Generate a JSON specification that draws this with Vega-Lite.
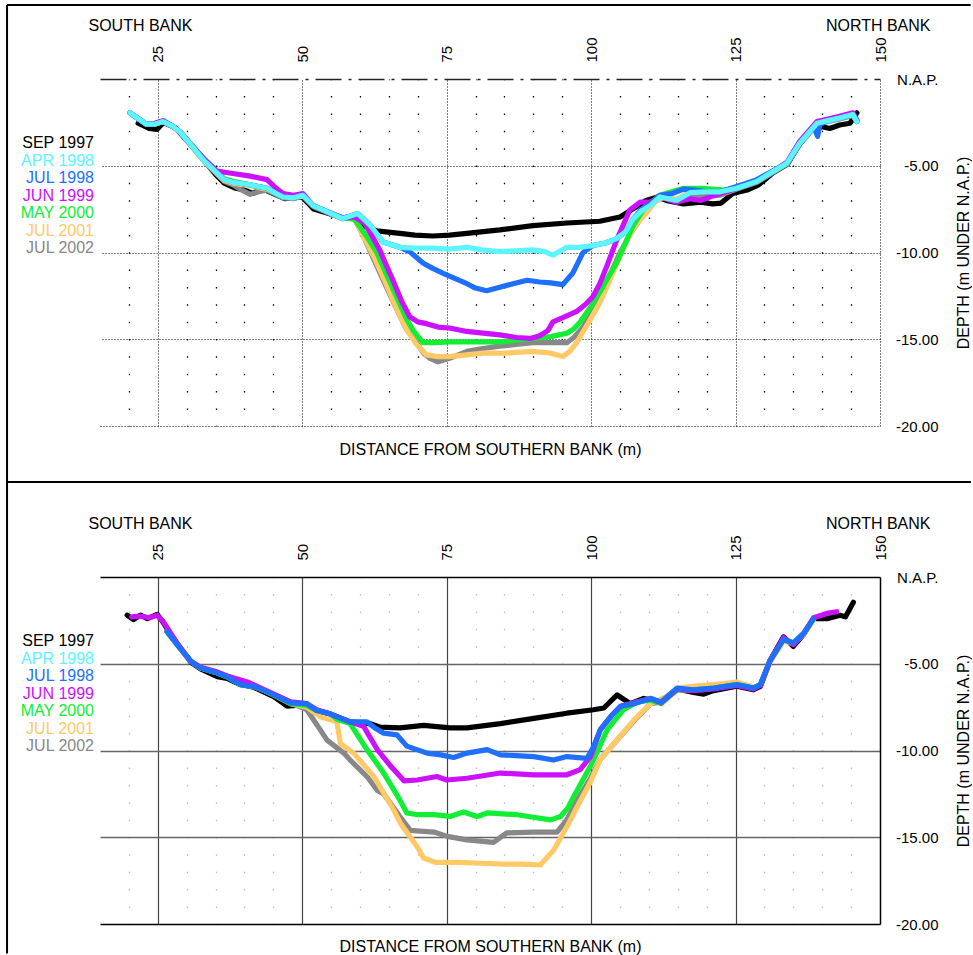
{
"$schema": "https://vega.github.io/schema/vega-lite/v6.json",
"autosize": {"type": "pad"},
"padding": {"left": 6, "top": 4, "right": 0, "bottom": 0},
"config": {"font": "Liberation Sans", "view": {"stroke": null},
  "axis": {"labelFont": "Liberation Sans", "titleFont": "Liberation Sans", "labelColor": "#000", "titleColor": "#000", "titleFontWeight": "normal", "titleFontSize": 16, "labelFontSize": 15},
  "legend": {"labelFont": "Liberation Sans"}},
"datasets": {
"top": [
{"s":"SEP 1997","x":21.6,"y":-2.55},{"s":"SEP 1997","x":23.5,"y":-2.85},{"s":"SEP 1997","x":24.9,"y":-2.9},{"s":"SEP 1997","x":26,"y":-2.5},{"s":"SEP 1997","x":28,"y":-2.8},{"s":"SEP 1997","x":31,"y":-3.9},{"s":"SEP 1997","x":35,"y":-5.5},{"s":"SEP 1997","x":36.5,"y":-6.0},{"s":"SEP 1997","x":38.5,"y":-6.3},{"s":"SEP 1997","x":40,"y":-6.4},{"s":"SEP 1997","x":41.5,"y":-6.6},{"s":"SEP 1997","x":43,"y":-6.3},{"s":"SEP 1997","x":45,"y":-6.6},{"s":"SEP 1997","x":47,"y":-6.9},{"s":"SEP 1997","x":50,"y":-6.8},{"s":"SEP 1997","x":52,"y":-7.5},{"s":"SEP 1997","x":55,"y":-7.8},{"s":"SEP 1997","x":57,"y":-8.0},{"s":"SEP 1997","x":59,"y":-7.9},{"s":"SEP 1997","x":61,"y":-8.5},{"s":"SEP 1997","x":62.9,"y":-8.75},{"s":"SEP 1997","x":66.9,"y":-8.9},{"s":"SEP 1997","x":69.5,"y":-9.0},{"s":"SEP 1997","x":72.6,"y":-9.05},{"s":"SEP 1997","x":75.5,"y":-9.0},{"s":"SEP 1997","x":78.5,"y":-8.9},{"s":"SEP 1997","x":84.2,"y":-8.7},{"s":"SEP 1997","x":89.9,"y":-8.45},{"s":"SEP 1997","x":95.8,"y":-8.3},{"s":"SEP 1997","x":101.5,"y":-8.2},{"s":"SEP 1997","x":105,"y":-7.95},{"s":"SEP 1997","x":107.2,"y":-7.5},{"s":"SEP 1997","x":109.5,"y":-7.0},{"s":"SEP 1997","x":111.5,"y":-6.8},{"s":"SEP 1997","x":113,"y":-7.0},{"s":"SEP 1997","x":116,"y":-7.2},{"s":"SEP 1997","x":119,"y":-7.1},{"s":"SEP 1997","x":121,"y":-7.2},{"s":"SEP 1997","x":122.5,"y":-7.15},{"s":"SEP 1997","x":124.5,"y":-6.6},{"s":"SEP 1997","x":127,"y":-6.4},{"s":"SEP 1997","x":129,"y":-6.1},{"s":"SEP 1997","x":131.5,"y":-5.4},{"s":"SEP 1997","x":134,"y":-4.9},{"s":"SEP 1997","x":136,"y":-3.8},{"s":"SEP 1997","x":138.5,"y":-2.8},{"s":"SEP 1997","x":140,"y":-2.75},{"s":"SEP 1997","x":141.3,"y":-2.85},{"s":"SEP 1997","x":143,"y":-2.65},{"s":"SEP 1997","x":144.8,"y":-2.55},{"s":"SEP 1997","x":146,"y":-1.95},
{"s":"JUL 2002","x":20.2,"y":-1.95},{"s":"JUL 2002","x":21.5,"y":-2.25},{"s":"JUL 2002","x":23,"y":-2.6},{"s":"JUL 2002","x":24.5,"y":-2.6},{"s":"JUL 2002","x":25.9,"y":-2.45},{"s":"JUL 2002","x":27.5,"y":-2.7},{"s":"JUL 2002","x":29,"y":-3.1},{"s":"JUL 2002","x":31,"y":-3.9},{"s":"JUL 2002","x":33,"y":-4.7},{"s":"JUL 2002","x":35.2,"y":-5.45},{"s":"JUL 2002","x":36.5,"y":-5.9},{"s":"JUL 2002","x":38,"y":-6.1},{"s":"JUL 2002","x":39.5,"y":-6.4},{"s":"JUL 2002","x":41,"y":-6.65},{"s":"JUL 2002","x":42.5,"y":-6.5},{"s":"JUL 2002","x":43.9,"y":-6.4},{"s":"JUL 2002","x":45.5,"y":-6.65},{"s":"JUL 2002","x":46.7,"y":-6.85},{"s":"JUL 2002","x":48.5,"y":-6.9},{"s":"JUL 2002","x":50.1,"y":-6.75},{"s":"JUL 2002","x":51.9,"y":-7.35},{"s":"JUL 2002","x":54,"y":-7.65},{"s":"JUL 2002","x":57,"y":-8.05},{"s":"JUL 2002","x":58.8,"y":-7.9},{"s":"JUL 2002","x":60.5,"y":-9.0},{"s":"JUL 2002","x":62.2,"y":-10.25},{"s":"JUL 2002","x":64.3,"y":-11.8},{"s":"JUL 2002","x":66.4,"y":-13.3},{"s":"JUL 2002","x":68,"y":-14.4},{"s":"JUL 2002","x":69.8,"y":-15.2},{"s":"JUL 2002","x":71,"y":-15.8},{"s":"JUL 2002","x":72.1,"y":-16.1},{"s":"JUL 2002","x":73.5,"y":-16.3},{"s":"JUL 2002","x":75.5,"y":-16.1},{"s":"JUL 2002","x":78.5,"y":-15.7},{"s":"JUL 2002","x":81,"y":-15.55},{"s":"JUL 2002","x":84.2,"y":-15.4},{"s":"JUL 2002","x":87,"y":-15.3},{"s":"JUL 2002","x":89.9,"y":-15.2},{"s":"JUL 2002","x":92,"y":-15.2},{"s":"JUL 2002","x":95.8,"y":-15.2},{"s":"JUL 2002","x":97,"y":-14.9},{"s":"JUL 2002","x":98.6,"y":-14.3},{"s":"JUL 2002","x":100,"y":-13.5},{"s":"JUL 2002","x":101.5,"y":-12.7},{"s":"JUL 2002","x":103,"y":-11.5},{"s":"JUL 2002","x":105,"y":-10.0},{"s":"JUL 2002","x":107.2,"y":-8.7},{"s":"JUL 2002","x":109.6,"y":-7.55},{"s":"JUL 2002","x":111,"y":-7.0},{"s":"JUL 2002","x":112.5,"y":-6.85},{"s":"JUL 2002","x":114.8,"y":-7.05},{"s":"JUL 2002","x":117.1,"y":-6.7},{"s":"JUL 2002","x":120,"y":-6.75},{"s":"JUL 2002","x":122.3,"y":-6.7},{"s":"JUL 2002","x":125.2,"y":-6.35},{"s":"JUL 2002","x":128.7,"y":-5.95},{"s":"JUL 2002","x":131.4,"y":-5.4},{"s":"JUL 2002","x":133.9,"y":-4.9},{"s":"JUL 2002","x":136.1,"y":-3.75},{"s":"JUL 2002","x":139.1,"y":-2.6},{"s":"JUL 2002","x":141,"y":-2.45},{"s":"JUL 2002","x":143,"y":-2.3},{"s":"JUL 2002","x":145.3,"y":-2.1},{"s":"JUL 2002","x":146,"y":-2.45},
{"s":"JUL 2001","x":20.2,"y":-1.95},{"s":"JUL 2001","x":21.5,"y":-2.25},{"s":"JUL 2001","x":23,"y":-2.6},{"s":"JUL 2001","x":24.5,"y":-2.6},{"s":"JUL 2001","x":25.9,"y":-2.45},{"s":"JUL 2001","x":27.5,"y":-2.7},{"s":"JUL 2001","x":29,"y":-3.1},{"s":"JUL 2001","x":31,"y":-3.95},{"s":"JUL 2001","x":33,"y":-4.75},{"s":"JUL 2001","x":35.2,"y":-5.45},{"s":"JUL 2001","x":36.5,"y":-5.85},{"s":"JUL 2001","x":38,"y":-6.0},{"s":"JUL 2001","x":41,"y":-6.15},{"s":"JUL 2001","x":43.9,"y":-6.35},{"s":"JUL 2001","x":45.5,"y":-6.6},{"s":"JUL 2001","x":46.7,"y":-6.8},{"s":"JUL 2001","x":48.5,"y":-6.85},{"s":"JUL 2001","x":50.1,"y":-6.7},{"s":"JUL 2001","x":51.9,"y":-7.3},{"s":"JUL 2001","x":54,"y":-7.6},{"s":"JUL 2001","x":57,"y":-8.0},{"s":"JUL 2001","x":58.8,"y":-7.9},{"s":"JUL 2001","x":60.5,"y":-9.0},{"s":"JUL 2001","x":62.5,"y":-10.3},{"s":"JUL 2001","x":64.5,"y":-11.8},{"s":"JUL 2001","x":66.4,"y":-13.3},{"s":"JUL 2001","x":68,"y":-14.4},{"s":"JUL 2001","x":69.8,"y":-15.3},{"s":"JUL 2001","x":71.5,"y":-15.9},{"s":"JUL 2001","x":73.5,"y":-16.0},{"s":"JUL 2001","x":75.5,"y":-16.0},{"s":"JUL 2001","x":78.5,"y":-15.9},{"s":"JUL 2001","x":81.3,"y":-15.8},{"s":"JUL 2001","x":85,"y":-15.8},{"s":"JUL 2001","x":89.9,"y":-15.7},{"s":"JUL 2001","x":93,"y":-15.8},{"s":"JUL 2001","x":95.1,"y":-16.0},{"s":"JUL 2001","x":96.3,"y":-15.7},{"s":"JUL 2001","x":97.5,"y":-15.2},{"s":"JUL 2001","x":99.8,"y":-13.9},{"s":"JUL 2001","x":101.5,"y":-12.9},{"s":"JUL 2001","x":102.7,"y":-12.0},{"s":"JUL 2001","x":104.5,"y":-10.6},{"s":"JUL 2001","x":106.2,"y":-9.3},{"s":"JUL 2001","x":108,"y":-8.3},{"s":"JUL 2001","x":109.6,"y":-7.7},{"s":"JUL 2001","x":111,"y":-7.1},{"s":"JUL 2001","x":112.5,"y":-6.8},{"s":"JUL 2001","x":114.8,"y":-6.95},{"s":"JUL 2001","x":117.1,"y":-6.5},{"s":"JUL 2001","x":120,"y":-6.45},{"s":"JUL 2001","x":122.3,"y":-6.5},{"s":"JUL 2001","x":125.2,"y":-6.3},{"s":"JUL 2001","x":128.7,"y":-5.9},{"s":"JUL 2001","x":131.4,"y":-5.35},{"s":"JUL 2001","x":133.9,"y":-4.85},{"s":"JUL 2001","x":136.1,"y":-3.7},{"s":"JUL 2001","x":139.1,"y":-2.55},{"s":"JUL 2001","x":141,"y":-2.4},{"s":"JUL 2001","x":143,"y":-2.25},{"s":"JUL 2001","x":145.3,"y":-2.05},{"s":"JUL 2001","x":146,"y":-2.45},
{"s":"MAY 2000","x":20.2,"y":-1.95},{"s":"MAY 2000","x":21.5,"y":-2.25},{"s":"MAY 2000","x":23,"y":-2.6},{"s":"MAY 2000","x":24.5,"y":-2.6},{"s":"MAY 2000","x":25.9,"y":-2.45},{"s":"MAY 2000","x":27.5,"y":-2.7},{"s":"MAY 2000","x":29,"y":-3.1},{"s":"MAY 2000","x":31,"y":-3.85},{"s":"MAY 2000","x":33,"y":-4.6},{"s":"MAY 2000","x":35.2,"y":-5.35},{"s":"MAY 2000","x":36.5,"y":-5.75},{"s":"MAY 2000","x":38,"y":-5.9},{"s":"MAY 2000","x":41,"y":-6.1},{"s":"MAY 2000","x":43.9,"y":-6.3},{"s":"MAY 2000","x":45.5,"y":-6.6},{"s":"MAY 2000","x":46.7,"y":-6.8},{"s":"MAY 2000","x":48.5,"y":-6.85},{"s":"MAY 2000","x":50.1,"y":-6.7},{"s":"MAY 2000","x":51.9,"y":-7.3},{"s":"MAY 2000","x":54,"y":-7.6},{"s":"MAY 2000","x":57,"y":-8.0},{"s":"MAY 2000","x":59.1,"y":-8.1},{"s":"MAY 2000","x":61,"y":-9.0},{"s":"MAY 2000","x":62.9,"y":-10.0},{"s":"MAY 2000","x":64.5,"y":-11.2},{"s":"MAY 2000","x":66.4,"y":-12.6},{"s":"MAY 2000","x":68,"y":-13.8},{"s":"MAY 2000","x":69.2,"y":-14.5},{"s":"MAY 2000","x":70.9,"y":-15.2},{"s":"MAY 2000","x":73,"y":-15.2},{"s":"MAY 2000","x":75.5,"y":-15.15},{"s":"MAY 2000","x":80,"y":-15.15},{"s":"MAY 2000","x":84.2,"y":-15.15},{"s":"MAY 2000","x":87,"y":-15.05},{"s":"MAY 2000","x":89.9,"y":-14.95},{"s":"MAY 2000","x":93,"y":-14.85},{"s":"MAY 2000","x":95.8,"y":-14.65},{"s":"MAY 2000","x":97,"y":-14.4},{"s":"MAY 2000","x":98,"y":-14.05},{"s":"MAY 2000","x":99.8,"y":-13.2},{"s":"MAY 2000","x":101.5,"y":-12.3},{"s":"MAY 2000","x":103,"y":-11.4},{"s":"MAY 2000","x":104.4,"y":-10.6},{"s":"MAY 2000","x":106,"y":-9.4},{"s":"MAY 2000","x":107.2,"y":-8.5},{"s":"MAY 2000","x":109,"y":-7.55},{"s":"MAY 2000","x":110.2,"y":-7.2},{"s":"MAY 2000","x":111.9,"y":-6.7},{"s":"MAY 2000","x":114,"y":-6.5},{"s":"MAY 2000","x":116,"y":-6.3},{"s":"MAY 2000","x":119,"y":-6.3},{"s":"MAY 2000","x":121,"y":-6.35},{"s":"MAY 2000","x":123,"y":-6.4},{"s":"MAY 2000","x":125.2,"y":-6.3},{"s":"MAY 2000","x":128.7,"y":-5.9},{"s":"MAY 2000","x":131.4,"y":-5.35},{"s":"MAY 2000","x":133.9,"y":-4.85},{"s":"MAY 2000","x":136.1,"y":-3.7},{"s":"MAY 2000","x":139.1,"y":-2.55},{"s":"MAY 2000","x":141,"y":-2.4},{"s":"MAY 2000","x":143,"y":-2.25},{"s":"MAY 2000","x":145.3,"y":-2.05},{"s":"MAY 2000","x":146,"y":-2.45},
{"s":"JUN 1999","x":20.2,"y":-1.95},{"s":"JUN 1999","x":21.5,"y":-2.25},{"s":"JUN 1999","x":23,"y":-2.6},{"s":"JUN 1999","x":24.5,"y":-2.55},{"s":"JUN 1999","x":25.9,"y":-2.4},{"s":"JUN 1999","x":27.5,"y":-2.7},{"s":"JUN 1999","x":29,"y":-3.1},{"s":"JUN 1999","x":31,"y":-3.9},{"s":"JUN 1999","x":33,"y":-4.6},{"s":"JUN 1999","x":35.2,"y":-5.3},{"s":"JUN 1999","x":38,"y":-5.45},{"s":"JUN 1999","x":41,"y":-5.6},{"s":"JUN 1999","x":43.9,"y":-5.8},{"s":"JUN 1999","x":45.5,"y":-6.3},{"s":"JUN 1999","x":46.7,"y":-6.6},{"s":"JUN 1999","x":48.5,"y":-6.7},{"s":"JUN 1999","x":50.1,"y":-6.6},{"s":"JUN 1999","x":51.9,"y":-7.3},{"s":"JUN 1999","x":54,"y":-7.6},{"s":"JUN 1999","x":57,"y":-8.0},{"s":"JUN 1999","x":59.1,"y":-7.95},{"s":"JUN 1999","x":60.8,"y":-8.3},{"s":"JUN 1999","x":62,"y":-9.0},{"s":"JUN 1999","x":63.4,"y":-9.85},{"s":"JUN 1999","x":64.5,"y":-10.7},{"s":"JUN 1999","x":65.7,"y":-11.6},{"s":"JUN 1999","x":67.2,"y":-12.8},{"s":"JUN 1999","x":68.6,"y":-13.7},{"s":"JUN 1999","x":70,"y":-14.0},{"s":"JUN 1999","x":71.5,"y":-14.1},{"s":"JUN 1999","x":73.5,"y":-14.3},{"s":"JUN 1999","x":75.5,"y":-14.35},{"s":"JUN 1999","x":78.5,"y":-14.55},{"s":"JUN 1999","x":81.3,"y":-14.65},{"s":"JUN 1999","x":84.2,"y":-14.75},{"s":"JUN 1999","x":87.1,"y":-14.9},{"s":"JUN 1999","x":89.5,"y":-14.95},{"s":"JUN 1999","x":91.1,"y":-14.8},{"s":"JUN 1999","x":92.5,"y":-14.5},{"s":"JUN 1999","x":93.4,"y":-14.0},{"s":"JUN 1999","x":95.5,"y":-13.7},{"s":"JUN 1999","x":97.5,"y":-13.4},{"s":"JUN 1999","x":99,"y":-13.0},{"s":"JUN 1999","x":100.3,"y":-12.55},{"s":"JUN 1999","x":101.5,"y":-11.8},{"s":"JUN 1999","x":102.7,"y":-10.8},{"s":"JUN 1999","x":104.4,"y":-9.3},{"s":"JUN 1999","x":106.7,"y":-7.55},{"s":"JUN 1999","x":108.5,"y":-7.1},{"s":"JUN 1999","x":110.2,"y":-7.1},{"s":"JUN 1999","x":111.9,"y":-6.8},{"s":"JUN 1999","x":114.8,"y":-7.1},{"s":"JUN 1999","x":117.1,"y":-6.9},{"s":"JUN 1999","x":119,"y":-7.0},{"s":"JUN 1999","x":120.5,"y":-6.8},{"s":"JUN 1999","x":122.3,"y":-6.6},{"s":"JUN 1999","x":125.2,"y":-6.3},{"s":"JUN 1999","x":128.7,"y":-5.9},{"s":"JUN 1999","x":131.4,"y":-5.35},{"s":"JUN 1999","x":133.9,"y":-4.8},{"s":"JUN 1999","x":136.1,"y":-3.6},{"s":"JUN 1999","x":139.1,"y":-2.45},{"s":"JUN 1999","x":141,"y":-2.3},{"s":"JUN 1999","x":143,"y":-2.15},{"s":"JUN 1999","x":145.3,"y":-1.95},{"s":"JUN 1999","x":146,"y":-2.35},
{"s":"JUL 1998","x":20.2,"y":-1.95},{"s":"JUL 1998","x":21.5,"y":-2.25},{"s":"JUL 1998","x":23,"y":-2.6},{"s":"JUL 1998","x":24.5,"y":-2.6},{"s":"JUL 1998","x":25.9,"y":-2.45},{"s":"JUL 1998","x":27.5,"y":-2.7},{"s":"JUL 1998","x":29,"y":-3.1},{"s":"JUL 1998","x":31,"y":-3.9},{"s":"JUL 1998","x":33,"y":-4.7},{"s":"JUL 1998","x":35.2,"y":-5.4},{"s":"JUL 1998","x":36.5,"y":-5.8},{"s":"JUL 1998","x":38,"y":-5.95},{"s":"JUL 1998","x":41,"y":-6.1},{"s":"JUL 1998","x":43.9,"y":-6.3},{"s":"JUL 1998","x":45.5,"y":-6.6},{"s":"JUL 1998","x":46.7,"y":-6.8},{"s":"JUL 1998","x":48.5,"y":-6.85},{"s":"JUL 1998","x":50.1,"y":-6.7},{"s":"JUL 1998","x":51.9,"y":-7.3},{"s":"JUL 1998","x":54,"y":-7.6},{"s":"JUL 1998","x":57,"y":-8.05},{"s":"JUL 1998","x":59.6,"y":-7.75},{"s":"JUL 1998","x":61.7,"y":-8.4},{"s":"JUL 1998","x":64,"y":-9.4},{"s":"JUL 1998","x":66.9,"y":-9.7},{"s":"JUL 1998","x":68.6,"y":-9.95},{"s":"JUL 1998","x":70.9,"y":-10.6},{"s":"JUL 1998","x":72.5,"y":-10.9},{"s":"JUL 1998","x":74.4,"y":-11.2},{"s":"JUL 1998","x":76.5,"y":-11.5},{"s":"JUL 1998","x":78.5,"y":-11.8},{"s":"JUL 1998","x":80,"y":-12.05},{"s":"JUL 1998","x":81.9,"y":-12.2},{"s":"JUL 1998","x":84.2,"y":-12.0},{"s":"JUL 1998","x":86.5,"y":-11.8},{"s":"JUL 1998","x":88.9,"y":-11.6},{"s":"JUL 1998","x":91.1,"y":-11.7},{"s":"JUL 1998","x":93,"y":-11.75},{"s":"JUL 1998","x":95.1,"y":-11.85},{"s":"JUL 1998","x":96.8,"y":-11.2},{"s":"JUL 1998","x":98.6,"y":-10.0},{"s":"JUL 1998","x":100.3,"y":-9.6},{"s":"JUL 1998","x":102.5,"y":-9.45},{"s":"JUL 1998","x":104.4,"y":-9.2},{"s":"JUL 1998","x":106,"y":-8.8},{"s":"JUL 1998","x":107.2,"y":-8.1},{"s":"JUL 1998","x":108.7,"y":-7.5},{"s":"JUL 1998","x":110.2,"y":-7.2},{"s":"JUL 1998","x":111.9,"y":-6.7},{"s":"JUL 1998","x":114,"y":-6.6},{"s":"JUL 1998","x":116,"y":-6.35},{"s":"JUL 1998","x":118,"y":-6.4},{"s":"JUL 1998","x":120,"y":-6.5},{"s":"JUL 1998","x":122.3,"y":-6.5},{"s":"JUL 1998","x":125.2,"y":-6.2},{"s":"JUL 1998","x":128.7,"y":-5.8},{"s":"JUL 1998","x":131.4,"y":-5.3},{"s":"JUL 1998","x":133.9,"y":-4.85},{"s":"JUL 1998","x":136.1,"y":-3.7},{"s":"JUL 1998","x":138.5,"y":-2.75},{"s":"JUL 1998","x":139.2,"y":-3.3},{"s":"JUL 1998","x":139.6,"y":-2.6},{"s":"JUL 1998","x":141,"y":-2.4},{"s":"JUL 1998","x":143,"y":-2.25},{"s":"JUL 1998","x":145.3,"y":-2.05},{"s":"JUL 1998","x":146,"y":-2.45},
{"s":"APR 1998","x":20.2,"y":-1.95},{"s":"APR 1998","x":21.5,"y":-2.25},{"s":"APR 1998","x":23,"y":-2.6},{"s":"APR 1998","x":24.5,"y":-2.6},{"s":"APR 1998","x":25.9,"y":-2.45},{"s":"APR 1998","x":27.5,"y":-2.7},{"s":"APR 1998","x":29,"y":-3.1},{"s":"APR 1998","x":31,"y":-3.9},{"s":"APR 1998","x":33,"y":-4.7},{"s":"APR 1998","x":35.2,"y":-5.4},{"s":"APR 1998","x":36.5,"y":-5.8},{"s":"APR 1998","x":38,"y":-5.95},{"s":"APR 1998","x":41,"y":-6.1},{"s":"APR 1998","x":43.9,"y":-6.3},{"s":"APR 1998","x":45.5,"y":-6.6},{"s":"APR 1998","x":46.7,"y":-6.8},{"s":"APR 1998","x":48.5,"y":-6.85},{"s":"APR 1998","x":50.1,"y":-6.7},{"s":"APR 1998","x":51.9,"y":-7.3},{"s":"APR 1998","x":54,"y":-7.6},{"s":"APR 1998","x":57,"y":-8.05},{"s":"APR 1998","x":59.6,"y":-7.75},{"s":"APR 1998","x":61.7,"y":-8.4},{"s":"APR 1998","x":64,"y":-9.4},{"s":"APR 1998","x":66.9,"y":-9.7},{"s":"APR 1998","x":69.5,"y":-9.75},{"s":"APR 1998","x":72.6,"y":-9.75},{"s":"APR 1998","x":75.5,"y":-9.8},{"s":"APR 1998","x":78.5,"y":-9.7},{"s":"APR 1998","x":81,"y":-9.85},{"s":"APR 1998","x":84.2,"y":-9.95},{"s":"APR 1998","x":87,"y":-9.9},{"s":"APR 1998","x":89.9,"y":-9.85},{"s":"APR 1998","x":92,"y":-9.95},{"s":"APR 1998","x":93.4,"y":-10.15},{"s":"APR 1998","x":95.8,"y":-9.7},{"s":"APR 1998","x":98,"y":-9.7},{"s":"APR 1998","x":100.3,"y":-9.6},{"s":"APR 1998","x":102.5,"y":-9.45},{"s":"APR 1998","x":104.4,"y":-9.2},{"s":"APR 1998","x":106,"y":-8.8},{"s":"APR 1998","x":107.2,"y":-8.1},{"s":"APR 1998","x":108.7,"y":-7.6},{"s":"APR 1998","x":110.2,"y":-7.3},{"s":"APR 1998","x":111.9,"y":-6.8},{"s":"APR 1998","x":114.8,"y":-7.0},{"s":"APR 1998","x":117.1,"y":-6.55},{"s":"APR 1998","x":120,"y":-6.5},{"s":"APR 1998","x":122.3,"y":-6.5},{"s":"APR 1998","x":125.2,"y":-6.3},{"s":"APR 1998","x":128.7,"y":-5.9},{"s":"APR 1998","x":131.4,"y":-5.35},{"s":"APR 1998","x":133.9,"y":-4.85},{"s":"APR 1998","x":136.1,"y":-3.7},{"s":"APR 1998","x":139.1,"y":-2.55},{"s":"APR 1998","x":141,"y":-2.4},{"s":"APR 1998","x":143,"y":-2.25},{"s":"APR 1998","x":145.3,"y":-2.05},{"s":"APR 1998","x":146,"y":-2.45}
],
"bottom": [
{"s":"SEP 1997","x":19.7,"y":-2.2},{"s":"SEP 1997","x":20.8,"y":-2.45},{"s":"SEP 1997","x":22,"y":-2.2},{"s":"SEP 1997","x":23.2,"y":-2.4},{"s":"SEP 1997","x":24.9,"y":-2.15},{"s":"SEP 1997","x":26,"y":-2.65},{"s":"SEP 1997","x":27,"y":-3.2},{"s":"SEP 1997","x":28.5,"y":-3.9},{"s":"SEP 1997","x":30.7,"y":-4.9},{"s":"SEP 1997","x":32.4,"y":-5.3},{"s":"SEP 1997","x":35.3,"y":-5.75},{"s":"SEP 1997","x":37,"y":-5.85},{"s":"SEP 1997","x":39.3,"y":-6.2},{"s":"SEP 1997","x":41.6,"y":-6.35},{"s":"SEP 1997","x":45.1,"y":-6.9},{"s":"SEP 1997","x":47.4,"y":-7.45},{"s":"SEP 1997","x":50.8,"y":-7.35},{"s":"SEP 1997","x":52.5,"y":-7.7},{"s":"SEP 1997","x":54.9,"y":-7.9},{"s":"SEP 1997","x":58.3,"y":-8.35},{"s":"SEP 1997","x":61.8,"y":-8.45},{"s":"SEP 1997","x":63.5,"y":-8.65},{"s":"SEP 1997","x":66.9,"y":-8.7},{"s":"SEP 1997","x":71,"y":-8.55},{"s":"SEP 1997","x":75.6,"y":-8.7},{"s":"SEP 1997","x":78.5,"y":-8.7},{"s":"SEP 1997","x":84.3,"y":-8.45},{"s":"SEP 1997","x":90.1,"y":-8.15},{"s":"SEP 1997","x":95.8,"y":-7.85},{"s":"SEP 1997","x":100.4,"y":-7.65},{"s":"SEP 1997","x":102.2,"y":-7.55},{"s":"SEP 1997","x":104.5,"y":-6.8},{"s":"SEP 1997","x":106.8,"y":-7.3},{"s":"SEP 1997","x":109.1,"y":-7.0},{"s":"SEP 1997","x":112,"y":-7.2},{"s":"SEP 1997","x":114.9,"y":-6.45},{"s":"SEP 1997","x":117.7,"y":-6.65},{"s":"SEP 1997","x":119.5,"y":-6.75},{"s":"SEP 1997","x":121.2,"y":-6.55},{"s":"SEP 1997","x":125.2,"y":-6.3},{"s":"SEP 1997","x":128.1,"y":-6.5},{"s":"SEP 1997","x":129.3,"y":-6.3},{"s":"SEP 1997","x":131,"y":-4.8},{"s":"SEP 1997","x":133.3,"y":-3.45},{"s":"SEP 1997","x":135,"y":-4.0},{"s":"SEP 1997","x":136.8,"y":-3.3},{"s":"SEP 1997","x":138.5,"y":-2.4},{"s":"SEP 1997","x":140.8,"y":-2.4},{"s":"SEP 1997","x":143.1,"y":-2.2},{"s":"SEP 1997","x":144,"y":-2.3},{"s":"SEP 1997","x":145.4,"y":-1.45},
{"s":"JUL 2002","x":26.6,"y":-3.15},{"s":"JUL 2002","x":28.5,"y":-3.95},{"s":"JUL 2002","x":30.7,"y":-4.85},{"s":"JUL 2002","x":32.4,"y":-5.25},{"s":"JUL 2002","x":35,"y":-5.5},{"s":"JUL 2002","x":37,"y":-5.75},{"s":"JUL 2002","x":39.3,"y":-6.2},{"s":"JUL 2002","x":41.6,"y":-6.3},{"s":"JUL 2002","x":43.5,"y":-6.55},{"s":"JUL 2002","x":45.1,"y":-6.8},{"s":"JUL 2002","x":48,"y":-7.25},{"s":"JUL 2002","x":50.8,"y":-7.65},{"s":"JUL 2002","x":53.1,"y":-8.8},{"s":"JUL 2002","x":54.3,"y":-9.4},{"s":"JUL 2002","x":57.2,"y":-10.15},{"s":"JUL 2002","x":58.3,"y":-10.55},{"s":"JUL 2002","x":61.2,"y":-11.5},{"s":"JUL 2002","x":63,"y":-12.3},{"s":"JUL 2002","x":64.1,"y":-12.5},{"s":"JUL 2002","x":66.9,"y":-13.8},{"s":"JUL 2002","x":68.7,"y":-14.6},{"s":"JUL 2002","x":72.8,"y":-14.7},{"s":"JUL 2002","x":75.1,"y":-14.95},{"s":"JUL 2002","x":78.5,"y":-15.15},{"s":"JUL 2002","x":83.1,"y":-15.3},{"s":"JUL 2002","x":85.4,"y":-14.75},{"s":"JUL 2002","x":90.1,"y":-14.7},{"s":"JUL 2002","x":94.1,"y":-14.7},{"s":"JUL 2002","x":95.8,"y":-14.0},{"s":"JUL 2002","x":97.5,"y":-12.9},{"s":"JUL 2002","x":99.9,"y":-11.6},{"s":"JUL 2002","x":101.6,"y":-10.5},{"s":"JUL 2002","x":104.5,"y":-9.4},{"s":"JUL 2002","x":107.4,"y":-8.3},{"s":"JUL 2002","x":110.3,"y":-7.3},{"s":"JUL 2002","x":112.1,"y":-7.2},{"s":"JUL 2002","x":114.9,"y":-6.5},{"s":"JUL 2002","x":117.7,"y":-6.5},{"s":"JUL 2002","x":121.2,"y":-6.4},{"s":"JUL 2002","x":125.2,"y":-6.2},{"s":"JUL 2002","x":128.1,"y":-6.4},{"s":"JUL 2002","x":129.3,"y":-6.2},{"s":"JUL 2002","x":131,"y":-4.8},{"s":"JUL 2002","x":133.3,"y":-3.6},{"s":"JUL 2002","x":135,"y":-3.8},{"s":"JUL 2002","x":136.8,"y":-3.25},{"s":"JUL 2002","x":138.5,"y":-2.4},
{"s":"JUL 2001","x":26.6,"y":-3.15},{"s":"JUL 2001","x":28.5,"y":-3.95},{"s":"JUL 2001","x":30.7,"y":-4.85},{"s":"JUL 2001","x":32.4,"y":-5.2},{"s":"JUL 2001","x":35,"y":-5.45},{"s":"JUL 2001","x":37,"y":-5.7},{"s":"JUL 2001","x":39.3,"y":-6.15},{"s":"JUL 2001","x":41.6,"y":-6.3},{"s":"JUL 2001","x":43.5,"y":-6.55},{"s":"JUL 2001","x":45.1,"y":-6.8},{"s":"JUL 2001","x":48,"y":-7.3},{"s":"JUL 2001","x":50.8,"y":-7.5},{"s":"JUL 2001","x":53.1,"y":-8.05},{"s":"JUL 2001","x":55,"y":-8.25},{"s":"JUL 2001","x":56,"y":-8.35},{"s":"JUL 2001","x":56.6,"y":-9.6},{"s":"JUL 2001","x":58.9,"y":-10.15},{"s":"JUL 2001","x":62.4,"y":-11.5},{"s":"JUL 2001","x":65.8,"y":-13.4},{"s":"JUL 2001","x":67,"y":-14.2},{"s":"JUL 2001","x":69.9,"y":-15.55},{"s":"JUL 2001","x":71,"y":-16.2},{"s":"JUL 2001","x":73.1,"y":-16.45},{"s":"JUL 2001","x":77,"y":-16.45},{"s":"JUL 2001","x":80.8,"y":-16.5},{"s":"JUL 2001","x":85,"y":-16.55},{"s":"JUL 2001","x":88,"y":-16.55},{"s":"JUL 2001","x":91.2,"y":-16.6},{"s":"JUL 2001","x":93.5,"y":-15.75},{"s":"JUL 2001","x":95.8,"y":-14.4},{"s":"JUL 2001","x":97.5,"y":-13.3},{"s":"JUL 2001","x":99.9,"y":-11.8},{"s":"JUL 2001","x":101.6,"y":-10.5},{"s":"JUL 2001","x":104.5,"y":-9.4},{"s":"JUL 2001","x":107.4,"y":-8.25},{"s":"JUL 2001","x":110.3,"y":-7.3},{"s":"JUL 2001","x":113,"y":-6.9},{"s":"JUL 2001","x":115,"y":-6.4},{"s":"JUL 2001","x":117.7,"y":-6.3},{"s":"JUL 2001","x":121.2,"y":-6.2},{"s":"JUL 2001","x":125.2,"y":-6.05},{"s":"JUL 2001","x":128.1,"y":-6.35},{"s":"JUL 2001","x":129.3,"y":-6.2},{"s":"JUL 2001","x":131,"y":-4.9},{"s":"JUL 2001","x":133.3,"y":-3.7},{"s":"JUL 2001","x":135,"y":-3.85},{"s":"JUL 2001","x":136.8,"y":-3.3},{"s":"JUL 2001","x":138.5,"y":-2.45},
{"s":"MAY 2000","x":26.6,"y":-3.15},{"s":"MAY 2000","x":28.5,"y":-3.95},{"s":"MAY 2000","x":30.7,"y":-4.85},{"s":"MAY 2000","x":32.4,"y":-5.25},{"s":"MAY 2000","x":35,"y":-5.5},{"s":"MAY 2000","x":37,"y":-5.75},{"s":"MAY 2000","x":39.3,"y":-6.2},{"s":"MAY 2000","x":41.6,"y":-6.3},{"s":"MAY 2000","x":43.5,"y":-6.55},{"s":"MAY 2000","x":45.1,"y":-6.8},{"s":"MAY 2000","x":48,"y":-7.3},{"s":"MAY 2000","x":50.8,"y":-7.4},{"s":"MAY 2000","x":52.5,"y":-7.7},{"s":"MAY 2000","x":54.9,"y":-7.9},{"s":"MAY 2000","x":56,"y":-8.2},{"s":"MAY 2000","x":58.3,"y":-8.45},{"s":"MAY 2000","x":61.2,"y":-9.95},{"s":"MAY 2000","x":64.1,"y":-11.3},{"s":"MAY 2000","x":66.9,"y":-12.85},{"s":"MAY 2000","x":68.1,"y":-13.6},{"s":"MAY 2000","x":70,"y":-13.7},{"s":"MAY 2000","x":72.8,"y":-13.7},{"s":"MAY 2000","x":75.6,"y":-13.8},{"s":"MAY 2000","x":77.9,"y":-13.55},{"s":"MAY 2000","x":80.3,"y":-13.8},{"s":"MAY 2000","x":82,"y":-13.6},{"s":"MAY 2000","x":87.2,"y":-13.7},{"s":"MAY 2000","x":90,"y":-13.85},{"s":"MAY 2000","x":93,"y":-14.0},{"s":"MAY 2000","x":94.7,"y":-13.8},{"s":"MAY 2000","x":96,"y":-13.3},{"s":"MAY 2000","x":97,"y":-12.65},{"s":"MAY 2000","x":99.9,"y":-10.9},{"s":"MAY 2000","x":102.8,"y":-8.8},{"s":"MAY 2000","x":105.6,"y":-7.65},{"s":"MAY 2000","x":108,"y":-7.2},{"s":"MAY 2000","x":110.3,"y":-7.1},{"s":"MAY 2000","x":112.1,"y":-7.3},{"s":"MAY 2000","x":114.9,"y":-6.5},{"s":"MAY 2000","x":117.7,"y":-6.5},{"s":"MAY 2000","x":121.2,"y":-6.4},{"s":"MAY 2000","x":125.2,"y":-6.2},{"s":"MAY 2000","x":128.1,"y":-6.4},{"s":"MAY 2000","x":129.3,"y":-6.2},{"s":"MAY 2000","x":131,"y":-4.8},{"s":"MAY 2000","x":133.3,"y":-3.6},{"s":"MAY 2000","x":135,"y":-3.8},{"s":"MAY 2000","x":136.8,"y":-3.25},{"s":"MAY 2000","x":138.5,"y":-2.4},
{"s":"JUN 1999","x":20.5,"y":-2.3},{"s":"JUN 1999","x":22,"y":-2.25},{"s":"JUN 1999","x":23.5,"y":-2.35},{"s":"JUN 1999","x":24.9,"y":-2.2},{"s":"JUN 1999","x":26,"y":-2.6},{"s":"JUN 1999","x":28.5,"y":-3.9},{"s":"JUN 1999","x":30.7,"y":-4.85},{"s":"JUN 1999","x":32.4,"y":-5.2},{"s":"JUN 1999","x":35,"y":-5.45},{"s":"JUN 1999","x":37,"y":-5.7},{"s":"JUN 1999","x":40.5,"y":-6.05},{"s":"JUN 1999","x":43.5,"y":-6.5},{"s":"JUN 1999","x":45.1,"y":-6.75},{"s":"JUN 1999","x":48,"y":-7.2},{"s":"JUN 1999","x":50.8,"y":-7.3},{"s":"JUN 1999","x":52.5,"y":-7.65},{"s":"JUN 1999","x":54.9,"y":-7.9},{"s":"JUN 1999","x":58.3,"y":-8.35},{"s":"JUN 1999","x":60.6,"y":-8.6},{"s":"JUN 1999","x":63,"y":-9.95},{"s":"JUN 1999","x":65.3,"y":-10.9},{"s":"JUN 1999","x":67.6,"y":-11.75},{"s":"JUN 1999","x":69.9,"y":-11.7},{"s":"JUN 1999","x":73.3,"y":-11.5},{"s":"JUN 1999","x":75,"y":-11.7},{"s":"JUN 1999","x":78.5,"y":-11.6},{"s":"JUN 1999","x":84.3,"y":-11.3},{"s":"JUN 1999","x":90.1,"y":-11.4},{"s":"JUN 1999","x":95.8,"y":-11.4},{"s":"JUN 1999","x":98.1,"y":-11.1},{"s":"JUN 1999","x":99.9,"y":-10.35},{"s":"JUN 1999","x":101.6,"y":-8.8},{"s":"JUN 1999","x":103.5,"y":-8.0},{"s":"JUN 1999","x":105.1,"y":-7.45},{"s":"JUN 1999","x":107.4,"y":-7.25},{"s":"JUN 1999","x":110.3,"y":-7.0},{"s":"JUN 1999","x":112.1,"y":-7.25},{"s":"JUN 1999","x":114.9,"y":-6.45},{"s":"JUN 1999","x":117.7,"y":-6.55},{"s":"JUN 1999","x":121.2,"y":-6.45},{"s":"JUN 1999","x":125.2,"y":-6.25},{"s":"JUN 1999","x":128.1,"y":-6.45},{"s":"JUN 1999","x":129.3,"y":-6.25},{"s":"JUN 1999","x":131,"y":-4.8},{"s":"JUN 1999","x":133.3,"y":-3.5},{"s":"JUN 1999","x":135,"y":-3.9},{"s":"JUN 1999","x":136.8,"y":-3.25},{"s":"JUN 1999","x":138.5,"y":-2.35},{"s":"JUN 1999","x":140.8,"y":-2.1},{"s":"JUN 1999","x":142.5,"y":-2.0},
{"s":"JUL 1998","x":26.6,"y":-3.15},{"s":"JUL 1998","x":28.5,"y":-3.95},{"s":"JUL 1998","x":30.7,"y":-4.85},{"s":"JUL 1998","x":32.4,"y":-5.25},{"s":"JUL 1998","x":35,"y":-5.5},{"s":"JUL 1998","x":37,"y":-5.75},{"s":"JUL 1998","x":39.3,"y":-6.2},{"s":"JUL 1998","x":41.6,"y":-6.3},{"s":"JUL 1998","x":43.5,"y":-6.55},{"s":"JUL 1998","x":45.1,"y":-6.8},{"s":"JUL 1998","x":48,"y":-7.25},{"s":"JUL 1998","x":50.8,"y":-7.3},{"s":"JUL 1998","x":52.5,"y":-7.7},{"s":"JUL 1998","x":54.9,"y":-7.9},{"s":"JUL 1998","x":58.3,"y":-8.35},{"s":"JUL 1998","x":61.2,"y":-8.35},{"s":"JUL 1998","x":62.8,"y":-8.75},{"s":"JUL 1998","x":64.1,"y":-9.0},{"s":"JUL 1998","x":66.4,"y":-9.1},{"s":"JUL 1998","x":68.1,"y":-9.75},{"s":"JUL 1998","x":71.6,"y":-10.15},{"s":"JUL 1998","x":74,"y":-10.25},{"s":"JUL 1998","x":76.2,"y":-10.4},{"s":"JUL 1998","x":78.5,"y":-10.15},{"s":"JUL 1998","x":82,"y":-9.95},{"s":"JUL 1998","x":84.3,"y":-10.25},{"s":"JUL 1998","x":87,"y":-10.3},{"s":"JUL 1998","x":90.1,"y":-10.35},{"s":"JUL 1998","x":93.5,"y":-10.55},{"s":"JUL 1998","x":95.8,"y":-10.35},{"s":"JUL 1998","x":99.3,"y":-10.45},{"s":"JUL 1998","x":100.4,"y":-9.8},{"s":"JUL 1998","x":101.6,"y":-8.8},{"s":"JUL 1998","x":103.5,"y":-8.0},{"s":"JUL 1998","x":105.1,"y":-7.45},{"s":"JUL 1998","x":107.4,"y":-7.3},{"s":"JUL 1998","x":110.3,"y":-7.0},{"s":"JUL 1998","x":112.1,"y":-7.2},{"s":"JUL 1998","x":114.9,"y":-6.4},{"s":"JUL 1998","x":117.7,"y":-6.5},{"s":"JUL 1998","x":121.2,"y":-6.4},{"s":"JUL 1998","x":125.2,"y":-6.2},{"s":"JUL 1998","x":128.1,"y":-6.4},{"s":"JUL 1998","x":129.3,"y":-6.2},{"s":"JUL 1998","x":131,"y":-4.8},{"s":"JUL 1998","x":133.3,"y":-3.6},{"s":"JUL 1998","x":135,"y":-3.8},{"s":"JUL 1998","x":136.8,"y":-3.25},{"s":"JUL 1998","x":138.5,"y":-2.4}
]
},
"vconcat": [
{
 "width": 780, "height": 347,
 "resolve": {"axis": {"x": "independent", "y": "independent"}},
 "layer": [
  {"data": {"values": []}, "mark": {"type": "point", "opacity": 0},
   "encoding": {
    "x": {"field": "x", "type": "quantitative", "scale": {"domain": [15, 150], "nice": false, "zero": false},
     "axis": {"orient": "top", "values": [20,30,35,40,45,55,60,65,70,80,85,90,95,105,110,115,120,130,135,140,145], "grid": true, "gridDash": [1.5, 15.85], "gridDashOffset": 0.75, "gridColor": "#000", "gridWidth": 1.3, "gridOpacity": 1, "labels": false, "ticks": false, "domain": false, "title": null}},
    "y": {"field": "y", "type": "quantitative", "scale": {"domain": [-20, 0], "nice": false, "zero": false}, "axis": null}}},
  {"data": {"values": []}, "mark": {"type": "point", "opacity": 0},
   "encoding": {
    "x": {"field": "x", "type": "quantitative", "scale": {"domain": [15, 150], "nice": false, "zero": false},
     "axis": {"orient": "top", "values": [25,50,75,100,125], "grid": true, "gridDash": [1, 2], "gridColor": "#000", "gridWidth": 1, "gridOpacity": 1, "labels": false, "ticks": false, "domain": false,
      "title": "NORTH BANK", "titleX": 830, "titleY": -49, "titleAlign": "right", "titleBaseline": "alphabetic"}},
    "y": {"field": "y", "type": "quantitative", "scale": {"domain": [-20, 0], "nice": false, "zero": false},
     "axis": {"orient": "right", "values": [-5,-10,-15], "grid": true, "gridDash": [1, 2], "gridColor": "#000", "gridWidth": 1, "gridOpacity": 1, "labels": false, "ticks": false, "domain": false, "title": null}}}},
  {"data": {"values": []}, "mark": {"type": "point", "opacity": 0},
   "encoding": {
    "x": {"field": "x", "type": "quantitative", "scale": {"domain": [15, 150], "nice": false, "zero": false},
     "axis": {"orient": "bottom", "labels": false, "ticks": false, "grid": false, "domain": true, "domainDash": [1, 2], "domainColor": "#000", "domainWidth": 1,
      "title": "DISTANCE FROM SOUTHERN BANK (m)", "titleX": 390, "titleY": 28, "titleAlign": "center", "titleBaseline": "alphabetic"}},
    "y": {"field": "y", "type": "quantitative", "scale": {"domain": [-20, 0], "nice": false, "zero": false}, "axis": null}}},
  {"data": {"name": "top"}, "mark": {"type": "line", "strokeWidth": 5.2, "strokeJoin": "round", "strokeCap": "round"},
   "encoding": {
    "x": {"field": "x", "type": "quantitative", "scale": {"domain": [15, 150], "nice": false, "zero": false},
     "axis": {"orient": "top", "values": [25,50,75,100,125,150], "labelAngle": 270, "labelAlign": "left", "labelBaseline": "middle", "labelPadding": 17, "ticks": false, "tickSize": 0, "grid": false,
      "domain": true, "domainDash": [26, 7, 3, 7], "domainColor": "#222", "domainWidth": 1.5,
      "title": "SOUTH BANK", "titleX": -12, "titleY": -49, "titleAlign": "left", "titleBaseline": "alphabetic"}},
    "y": {"field": "y", "type": "quantitative", "scale": {"domain": [-20, 0], "nice": false, "zero": false},
     "axis": {"orient": "right", "values": [0,-5,-10,-15,-20], "labelExpr": "datum.value === 0 ? 'N.A.P.' : '-' + format(-datum.value, '.2f')", "labelAlign": "right", "labelBaseline": "middle", "labelPadding": 58, "ticks": false, "tickSize": 0, "grid": false,
      "domain": true, "domainDash": [1, 2], "domainColor": "#000", "domainWidth": 1,
      "title": "DEPTH  (m UNDER N.A.P.)", "titleX": 83, "titleY": 173.5, "titleAngle": 270, "titleAlign": "center", "titleBaseline": "middle"}},
    "color": {"field": "s", "type": "nominal",
     "scale": {"domain": ["SEP 1997","APR 1998","JUL 1998","JUN 1999","MAY 2000","JUL 2001","JUL 2002"], "range": ["#000000","#5cf5ff","#1f6fff","#cc11ff","#11ee33","#ffc966","#888888"]},
     "legend": {"orient": "none", "legendX": -22, "legendY": 56, "title": null, "symbolSize": 0, "symbolOpacity": 0, "symbolStrokeWidth": 0, "labelFontSize": 16, "labelAlign": "right", "labelOffset": 0, "rowPadding": 1.5, "padding": 0, "labelLimit": 300, "labelBaseline": "middle",
      "encode": {"labels": {"update": {"fill": {"signal": "datum.value === 'SEP 1997' ? '#000000' : datum.value === 'APR 1998' ? '#5cf5ff' : datum.value === 'JUL 1998' ? '#1f6fff' : datum.value === 'JUN 1999' ? '#cc11ff' : datum.value === 'MAY 2000' ? '#11ee33' : datum.value === 'JUL 2001' ? '#ffc966' : '#888888'"}}}}}}}},
  {"data": {"values": [{}]}, "mark": {"type": "rule", "clip": false, "strokeWidth": 2, "color": "#000"},
   "encoding": {"x": {"datum": -1.09, "type": "quantitative", "axis": null}, "x2": {"datum": 165.7}, "y": {"datum": 4.265, "type": "quantitative", "axis": null}}},
  {"data": {"values": [{}]}, "mark": {"type": "rule", "clip": false, "strokeWidth": 2, "color": "#000"},
   "encoding": {"x": {"datum": -1.09, "type": "quantitative", "axis": null}, "x2": {"datum": 165.7}, "y": {"datum": -23.23, "type": "quantitative", "axis": null}}},
  {"data": {"values": [{}]}, "mark": {"type": "rule", "clip": false, "strokeWidth": 2, "color": "#000"},
   "encoding": {"x": {"datum": -1.09, "type": "quantitative", "axis": null}, "y": {"datum": 4.265, "type": "quantitative", "axis": null}, "y2": {"datum": -23.23}}}
 ]
},
{
 "width": 780, "height": 347,
 "resolve": {"axis": {"x": "independent", "y": "independent"}},
 "layer": [
  {"data": {"values": []}, "mark": {"type": "point", "opacity": 0},
   "encoding": {
    "x": {"field": "x", "type": "quantitative", "scale": {"domain": [15, 150], "nice": false, "zero": false},
     "axis": {"orient": "top", "values": [20,30,35,40,45,55,60,65,70,80,85,90,95,105,110,115,120,130,135,140,145], "grid": true, "gridDash": [1.5, 15.85], "gridDashOffset": 0.75, "gridColor": "#bbbbbb", "gridWidth": 1.3, "gridOpacity": 1, "labels": false, "ticks": false, "domain": false, "title": null}},
    "y": {"field": "y", "type": "quantitative", "scale": {"domain": [-20, 0], "nice": false, "zero": false}, "axis": null}}},
  {"data": {"values": []}, "mark": {"type": "point", "opacity": 0},
   "encoding": {
    "x": {"field": "x", "type": "quantitative", "scale": {"domain": [15, 150], "nice": false, "zero": false},
     "axis": {"orient": "top", "values": [25,50,75,100,125], "grid": true, "gridColor": "#444444", "gridWidth": 1.2, "gridOpacity": 1, "labels": false, "ticks": false, "domain": false,
      "title": "NORTH BANK", "titleX": 830, "titleY": -49, "titleAlign": "right", "titleBaseline": "alphabetic"}},
    "y": {"field": "y", "type": "quantitative", "scale": {"domain": [-20, 0], "nice": false, "zero": false},
     "axis": {"orient": "right", "values": [-5,-10,-15], "grid": true, "gridColor": "#666666", "gridWidth": 1.5, "gridOpacity": 1, "labels": false, "ticks": false, "domain": false, "title": null}}}},
  {"data": {"values": []}, "mark": {"type": "point", "opacity": 0},
   "encoding": {
    "x": {"field": "x", "type": "quantitative", "scale": {"domain": [15, 150], "nice": false, "zero": false},
     "axis": {"orient": "bottom", "labels": false, "ticks": false, "grid": false, "domain": true, "domainColor": "#000", "domainWidth": 1.5,
      "title": "DISTANCE FROM SOUTHERN BANK (m)", "titleX": 390, "titleY": 27, "titleAlign": "center", "titleBaseline": "alphabetic"}},
    "y": {"field": "y", "type": "quantitative", "scale": {"domain": [-20, 0], "nice": false, "zero": false}, "axis": null}}},
  {"data": {"name": "bottom"}, "mark": {"type": "line", "strokeWidth": 5.2, "strokeJoin": "round", "strokeCap": "round"},
   "encoding": {
    "x": {"field": "x", "type": "quantitative", "scale": {"domain": [15, 150], "nice": false, "zero": false},
     "axis": {"orient": "top", "values": [25,50,75,100,125,150], "labelAngle": 270, "labelAlign": "left", "labelBaseline": "middle", "labelPadding": 17, "ticks": false, "tickSize": 0, "grid": false,
      "domain": true, "domainColor": "#000", "domainWidth": 1.5,
      "title": "SOUTH BANK", "titleX": -12, "titleY": -49, "titleAlign": "left", "titleBaseline": "alphabetic"}},
    "y": {"field": "y", "type": "quantitative", "scale": {"domain": [-20, 0], "nice": false, "zero": false},
     "axis": {"orient": "right", "values": [0,-5,-10,-15,-20], "labelExpr": "datum.value === 0 ? 'N.A.P.' : '-' + format(-datum.value, '.2f')", "labelAlign": "right", "labelBaseline": "middle", "labelPadding": 58, "ticks": false, "tickSize": 0, "grid": false,
      "domain": true, "domainColor": "#000", "domainWidth": 1.5,
      "title": "DEPTH  (m UNDER N.A.P.)", "titleX": 83, "titleY": 173.5, "titleAngle": 270, "titleAlign": "center", "titleBaseline": "middle"}},
    "color": {"field": "s", "type": "nominal",
     "scale": {"domain": ["SEP 1997","APR 1998","JUL 1998","JUN 1999","MAY 2000","JUL 2001","JUL 2002"], "range": ["#000000","#5cf5ff","#1f6fff","#cc11ff","#11ee33","#ffc966","#888888"]},
     "legend": {"orient": "none", "legendX": -22, "legendY": 56, "title": null, "symbolSize": 0, "symbolOpacity": 0, "symbolStrokeWidth": 0, "labelFontSize": 16, "labelAlign": "right", "labelOffset": 0, "rowPadding": 1.5, "padding": 0, "labelLimit": 300, "labelBaseline": "middle",
      "encode": {"labels": {"update": {"fill": {"signal": "datum.value === 'SEP 1997' ? '#000000' : datum.value === 'APR 1998' ? '#5cf5ff' : datum.value === 'JUL 1998' ? '#1f6fff' : datum.value === 'JUN 1999' ? '#cc11ff' : datum.value === 'MAY 2000' ? '#11ee33' : datum.value === 'JUL 2001' ? '#ffc966' : '#888888'"}}}}}}}},
  {"data": {"values": [{}]}, "mark": {"type": "rule", "clip": false, "strokeWidth": 2, "color": "#000"},
   "encoding": {"x": {"datum": -1.09, "type": "quantitative", "axis": null}, "x2": {"datum": 165.7}, "y": {"datum": 5.476, "type": "quantitative", "axis": null}}},
  {"data": {"values": [{}]}, "mark": {"type": "rule", "clip": false, "strokeWidth": 2, "color": "#000"},
   "encoding": {"x": {"datum": -1.09, "type": "quantitative", "axis": null}, "y": {"datum": 5.476, "type": "quantitative", "axis": null}, "y2": {"datum": -21.7}}}
 ]
}
],
"spacing": 151,
"bounds": "flush",
"resolve": {"scale": {"color": "independent"}, "legend": {"color": "independent"}}
}
